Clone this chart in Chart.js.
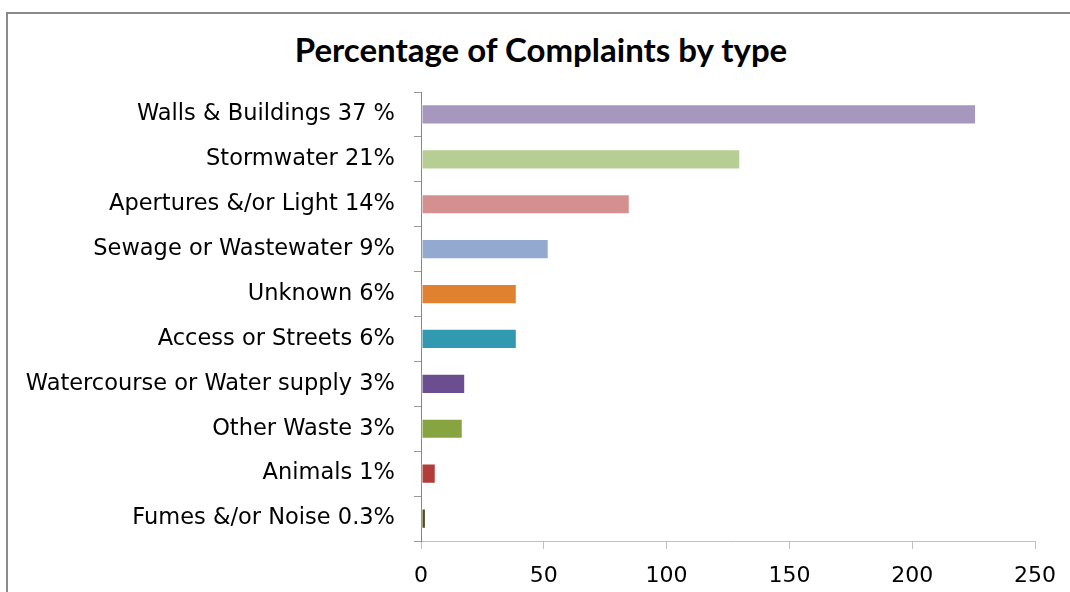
<!DOCTYPE html>
<html>
<head>
<meta charset="utf-8">
<script src="https://cdn.jsdelivr.net/npm/chart.js@4/dist/chart.umd.min.js"></script>
<style>
  html, body { margin: 0; padding: 0; background: #fff; }
  #wrap { position: relative; width: 1070px; height: 592px; overflow: hidden; }
  #frame { position: absolute; left: 6px; top: 12px; width: 1100px; height: 700px;
           border-left: 2px solid #8a8a8a; border-top: 2px solid #8a8a8a; }
  #titulo { position: absolute; left: 0; top: 29px; width: 1082px; text-align: center;
            font: bold 33px Lato; line-height: 40px; color: #000; }
  canvas { position: absolute; left: 0; top: 0; }
</style>
</head>
<body>
<div id="wrap">
  <div id="frame"></div>
  <div id="titulo">Percentage of Complaints by type</div>
  <canvas id="chartQuejas" width="1070" height="592"></canvas>
</div>
<script>
// categorías y valores
const categorias = [
    'Walls & Buildings 37 %',
    'Stormwater 21%',
    'Apertures &/or Light 14%',
    'Sewage or Wastewater 9%',
    'Unknown 6%',
    'Access or Streets 6%',
    'Watercourse or Water supply 3%',
    'Other Waste 3%',
    'Animals 1%',
    'Fumes &/or Noise 0.3%'
];
const cantidades = [226, 130, 85, 52, 39, 39, 18, 17, 6, 2];
const colores = ['#a597bd', '#b6cd93', '#d4908f', '#93a9d0', '#e0812f',
                 '#3399b0', '#6b4e8f', '#86a440', '#b23c38', '#4f4a24'];
const ticksX = [0, 50, 100, 150, 200, 250];

const fuente = 'DejaVu Sans';

const ctx = document.getElementById('chartQuejas').getContext('2d');
new Chart(ctx, {
    type: 'bar',
    data: {
        labels: categorias,
        datasets: [{
            data: cantidades,
            backgroundColor: colores,
            borderColor: 'rgba(255,255,255,0.5)',
            borderWidth: 1,
            borderSkipped: false,
            barPercentage: 0.45,
            categoryPercentage: 1
        }]
    },
    options: {
        indexAxis: 'y',
        responsive: false,
        animation: false,
        layout: { padding: { top: 92, right: 33, bottom: 0, left: 0 } },
        plugins: {
            legend: { display: false },
            tooltip: { enabled: false },
            title: { display: false }
        },
        scales: {
            x: {
                min: 0,
                max: 250,
                afterBuildTicks: s => { s.ticks = ticksX.map(v => ({ value: v })); },
                afterFit: s => { s.height = 51; },
                border: { color: '#c0c0c0', width: 1 },
                grid: { drawOnChartArea: false, drawTicks: true, tickLength: 8, color: '#c0c0c0' },
                ticks: { color: '#000', padding: 14, font: { family: fuente, size: 22 } }
            },
            y: {
                afterFit: s => { s.width = 421; },
                border: { color: '#868686', width: 1 },
                grid: { drawOnChartArea: false, drawTicks: true, tickLength: 7, color: '#9a9a9a', offset: true },
                ticks: { color: '#000', padding: 19, font: { family: fuente, size: 22.5 } }
            }
        }
    }
});
</script>
</body>
</html>
